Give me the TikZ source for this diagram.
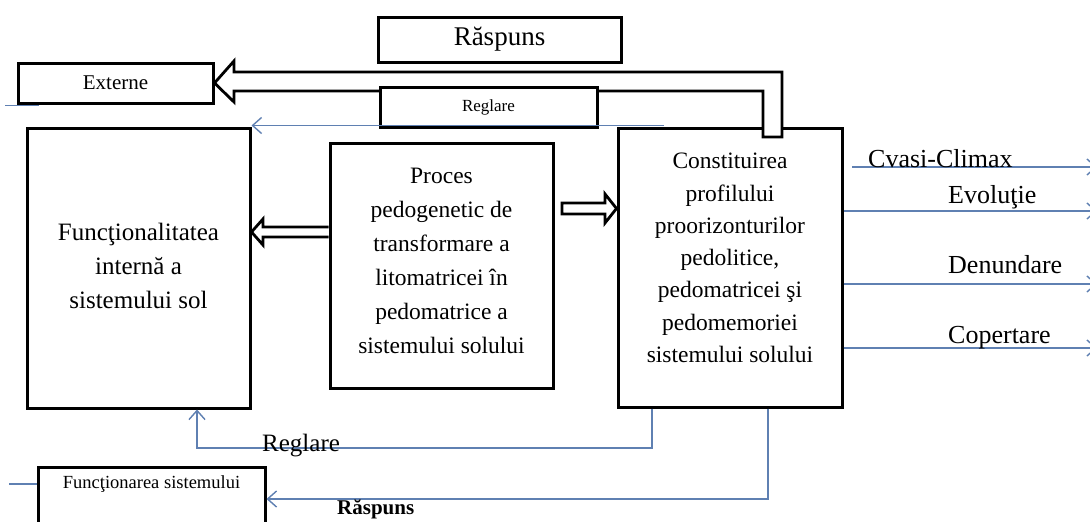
\documentclass[tikz,border=0pt]{standalone}
\usepackage{fontspec}
\setmainfont{Liberation Serif}
\usetikzlibrary{arrows.meta}
\definecolor{bluel}{RGB}{95,128,178}
\tikzset{
  box/.style={draw=black, line width=3pt, fill=white, inner sep=0pt},
  bl/.style={draw=bluel, line width=1.4pt},
  blarrow/.style={bl, -{Straight Barb[length=9pt,width=16pt]}},
  hollow/.style={draw=black, line width=2.8pt, fill=white, line join=miter},
  txt/.style={font=\fontsize{23.5}{34}\selectfont, align=center, inner sep=0pt},
  lbl/.style={font=\fontsize{26}{30}\selectfont, inner sep=0pt},
}
\begin{document}
\begin{tikzpicture}[x=1pt,y=-1pt]
\useasboundingbox (0,0) rectangle (1090,522);
\clip (0,0) rectangle (1090,522);
\fill[white] (0,0) rectangle (1090,522);

% boxes
\node[box, minimum width=243pt, minimum height=45pt, font=\fontsize{27}{30}\selectfont] (rasp) at (499.5,39.5) {Răspuns};
\node[box, minimum width=195pt, minimum height=40pt, font=\fontsize{21}{24}\selectfont] (ext) at (115.5,83) {Externe};
\node[box, minimum width=223pt, minimum height=280pt] (func) at (138.5,268) {};
\node[box, minimum width=223pt, minimum height=245pt] (proc) at (441.5,265.5) {};
\node[box, minimum width=224pt, minimum height=279pt] (cons) at (730,267.5) {};
\node[box, minimum width=227pt, minimum height=73pt] (funcsis) at (151.5,503.5) {};

% box texts
\node[txt, font=\fontsize{25}{34}\selectfont] (funcT) at (138.5,266) {Funcţionalitatea\\internă a\\sistemului sol};
\node[txt] (procT) at (441.5,261) {Proces\\pedogenetic de\\transformare a\\litomatricei în\\pedomatrice a\\sistemului solului};
\node[txt, font=\fontsize{23.5}{32.3}\selectfont] (consT) at (730,258) {Constituirea\\profilului\\proorizonturilor\\pedolitice,\\pedomatricei şi\\pedomemoriei\\sistemului solului};
\node[inner sep=0pt, font=\fontsize{18.5}{22}\selectfont] (funcsisT) at (151.5,484) {Funcţionarea sistemului};

% big hollow arrow (Constituirea -> Externe)
\draw[hollow] (782,137) -- (782,72) -- (234,72) -- (234,61) -- (ext.east) -- (234,102) -- (234,91) -- (763,91) -- (763,137) -- cycle;
\node[box, minimum width=217pt, minimum height=40pt, font=\fontsize{17}{20}\selectfont] (regtop) at (488.5,107) {Reglare};

% hollow arrow Proces -> Functionalitatea
\draw[hollow] (proc.west |- 0,227) -- (263,227) -- (263,219) -- (func.east |- 0,232) -- (263,245) -- (263,237) -- (proc.west |- 0,237);
% hollow arrow Proces -> Constituirea
\draw[hollow] (562,203) -- (605,203) -- (605,194) -- (cons.west |- 0,208.5) -- (605,223) -- (605,214) -- (562,214) -- cycle;

% blue line along top
\coordinate (t1) at (664,125.5);
\draw[blarrow] (t1) -- (t1 -| func.north east);

% bottom Reglare loop
\coordinate (rg1) at (652,448);
\coordinate (rg2) at (197,448);
\draw[blarrow] (rg1 |- cons.south) -- (rg1) -- (rg2) -- (rg2 |- func.south);
\node[lbl, font=\fontsize{25}{30}\selectfont, anchor=base west] (reglb) at (262,451) {Reglare};

% bottom Raspuns
\coordinate (rs1) at (768,499);
\draw[blarrow] (rs1 |- cons.south) -- (rs1) -- (rs1 -| funcsis.east);
\node[inner sep=0pt, anchor=base west, font=\fontsize{21}{24}\selectfont\bfseries] (rasplb) at (337,514) {Răspuns};

% outputs to the right
\coordinate (o0) at (1097,167);
\coordinate (o0s) at (852,167);
\coordinate (o1) at (1097,211);
\coordinate (o2) at (1097,284);
\coordinate (o3) at (1097,348);
\draw[blarrow] (o0s) -- (o0);
\draw[blarrow] (o1 -| cons.east) -- (o1);
\draw[blarrow] (o2 -| cons.east) -- (o2);
\draw[blarrow] (o3 -| cons.east) -- (o3);
\node[lbl, anchor=base west] (l0) at (868,167) {Cvasi-Climax};
\node[lbl, anchor=base west] (l1) at (948,203) {Evoluţie};
\node[lbl, anchor=base west] (l2) at (948,273) {Denundare};
\node[lbl, anchor=base west] (l3) at (948,343) {Copertare};

% small stubs at the left edge
\draw[bl] (ext.south west) ++(22,1) -- ++(-34,0);
\draw[bl] (funcsis.west |- 0,484) -- ++(-28,0);
\end{tikzpicture}
\end{document}
